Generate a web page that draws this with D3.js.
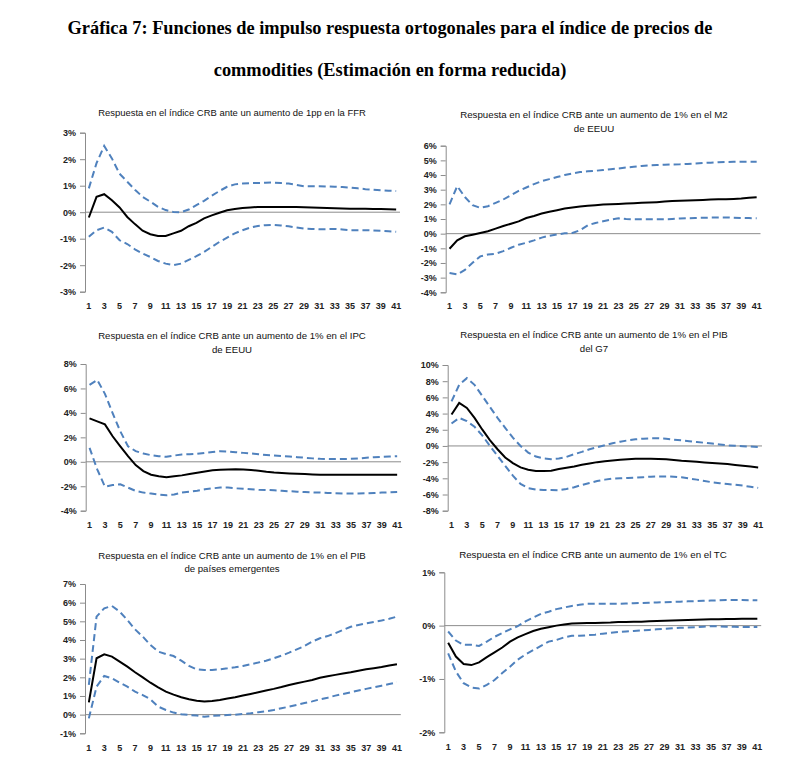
<!DOCTYPE html>
<html><head><meta charset="utf-8">
<script src="https://d3js.org/d3.v7.min.js"></script>
<style>body{margin:0;background:#fff}svg{display:block}</style>
</head><body>
<svg id="c" width="807" height="772"></svg>
<script>
// ---------- DATA ----------
const periods = d3.range(1, 42);
const xTickLabels = d3.range(1, 42, 2);

const titleMain = ["Gráfica 7: Funciones de impulso respuesta ortogonales para el índice de precios de",
                   "commodities (Estimación en forma reducida)"];

const titles = [
  ["Respuesta en el índice CRB ante un aumento de 1pp en la FFR"],
  ["Respuesta en el índice CRB ante un aumento de 1% en el M2", "de EEUU"],
  ["Respuesta en el índice CRB ante un aumento de 1% en el IPC", "de EEUU"],
  ["Respuesta en el índice CRB ante un aumento de 1% en el PIB", "del G7"],
  ["Respuesta en el índice CRB ante un aumento de 1% en el PIB", "de países emergentes"],
  ["Respuesta en el índice CRB ante un aumento de 1% en el TC"]
];

const yTicks = [
  [-3,-2,-1,0,1,2,3],
  [-4,-3,-2,-1,0,1,2,3,4,5,6],
  [-4,-2,0,2,4,6,8],
  [-8,-6,-4,-2,0,2,4,6,8,10],
  [-1,0,1,2,3,4,5,6,7],
  [-2,-1,0,1]
];

// Panel 1: FFR
const ffrMid = [-0.2,0.58,0.68,0.45,0.18,-0.18,-0.45,-0.7,-0.83,-0.9,-0.9,-0.8,-0.7,-0.53,-0.4,-0.23,-0.12,-0.02,0.07,0.12,0.16,0.18,0.2,0.2,0.2,0.2,0.2,0.2,0.19,0.18,0.17,0.16,0.15,0.14,0.13,0.13,0.13,0.12,0.12,0.11,0.1];
const ffrUp = [0.9,1.85,2.5,2.03,1.45,1.15,0.85,0.58,0.4,0.2,0.08,0.01,0.0,0.1,0.27,0.43,0.62,0.8,0.96,1.05,1.08,1.1,1.1,1.11,1.12,1.1,1.08,1.03,0.98,0.98,0.98,0.97,0.96,0.95,0.93,0.9,0.87,0.85,0.83,0.81,0.8];
const ffrLo = [-0.93,-0.68,-0.58,-0.74,-1.06,-1.2,-1.4,-1.56,-1.69,-1.84,-1.94,-2.0,-1.94,-1.8,-1.66,-1.5,-1.31,-1.12,-0.96,-0.8,-0.68,-0.58,-0.52,-0.49,-0.48,-0.5,-0.53,-0.58,-0.62,-0.63,-0.64,-0.64,-0.63,-0.65,-0.68,-0.68,-0.68,-0.69,-0.7,-0.72,-0.74];

// Panel 2: M2
const m2Mid = [-1.03,-0.46,-0.18,-0.07,0.05,0.16,0.34,0.52,0.68,0.84,1.07,1.21,1.37,1.5,1.6,1.71,1.78,1.85,1.9,1.94,1.99,2.01,2.03,2.05,2.08,2.1,2.12,2.15,2.19,2.22,2.24,2.26,2.28,2.3,2.33,2.34,2.35,2.37,2.4,2.45,2.49];
const m2Up = [2.0,3.24,2.5,1.94,1.76,1.87,2.1,2.33,2.63,2.92,3.15,3.38,3.58,3.72,3.86,4.0,4.11,4.2,4.25,4.29,4.34,4.4,4.45,4.51,4.57,4.62,4.66,4.68,4.7,4.72,4.73,4.76,4.79,4.82,4.84,4.87,4.89,4.9,4.91,4.91,4.91];
const m2Lo = [-2.69,-2.78,-2.47,-1.99,-1.55,-1.42,-1.37,-1.19,-0.96,-0.75,-0.62,-0.46,-0.27,-0.14,-0.05,0.02,0.05,0.23,0.57,0.73,0.84,0.96,1.05,1.0,0.98,0.98,0.98,0.98,0.98,1.0,1.03,1.05,1.07,1.08,1.1,1.1,1.1,1.09,1.07,1.06,1.05];

// Panel 3: IPC
const ipcMid = [3.55,3.31,3.06,2.09,1.27,0.46,-0.27,-0.76,-1.06,-1.19,-1.27,-1.19,-1.11,-1.0,-0.89,-0.79,-0.7,-0.65,-0.62,-0.6,-0.62,-0.68,-0.73,-0.81,-0.87,-0.91,-0.95,-0.98,-1.0,-1.03,-1.06,-1.06,-1.06,-1.06,-1.06,-1.06,-1.06,-1.06,-1.06,-1.06,-1.06];
const ipcUp = [6.29,6.7,5.56,3.98,2.49,1.27,0.87,0.68,0.54,0.46,0.41,0.51,0.6,0.62,0.65,0.73,0.81,0.87,0.84,0.79,0.73,0.68,0.62,0.56,0.51,0.47,0.43,0.38,0.33,0.28,0.24,0.23,0.22,0.23,0.24,0.28,0.33,0.37,0.41,0.44,0.46];
const ipcLo = [1.14,-0.62,-2.03,-1.9,-1.84,-2.11,-2.38,-2.52,-2.6,-2.68,-2.74,-2.68,-2.52,-2.44,-2.36,-2.25,-2.17,-2.11,-2.11,-2.17,-2.2,-2.24,-2.28,-2.3,-2.33,-2.37,-2.41,-2.44,-2.47,-2.5,-2.52,-2.55,-2.57,-2.59,-2.6,-2.59,-2.57,-2.55,-2.52,-2.5,-2.47];

// Panel 4: PIB G7
const g7Mid = [3.88,5.31,4.69,3.47,2.04,0.73,-0.41,-1.43,-2.12,-2.65,-2.94,-3.1,-3.1,-3.06,-2.86,-2.69,-2.53,-2.33,-2.16,-2.0,-1.88,-1.8,-1.71,-1.63,-1.59,-1.57,-1.59,-1.6,-1.63,-1.73,-1.84,-1.9,-1.96,-2.04,-2.12,-2.18,-2.24,-2.35,-2.45,-2.55,-2.65];
const g7Up = [5.51,7.55,8.37,7.55,6.2,4.82,3.47,2.24,1.02,0.0,-0.82,-1.31,-1.55,-1.63,-1.55,-1.35,-1.02,-0.73,-0.41,-0.16,0.08,0.33,0.53,0.69,0.82,0.9,0.94,0.94,0.9,0.78,0.69,0.59,0.49,0.39,0.29,0.18,0.08,0.02,-0.04,-0.08,-0.12];
const g7Lo = [2.78,3.47,3.06,2.37,1.31,0.0,-1.22,-2.45,-3.67,-4.69,-5.22,-5.39,-5.43,-5.43,-5.47,-5.31,-5.1,-4.82,-4.57,-4.33,-4.16,-4.04,-4.0,-3.96,-3.92,-3.86,-3.8,-3.78,-3.76,-3.8,-3.88,-4.02,-4.16,-4.33,-4.49,-4.6,-4.69,-4.8,-4.9,-5.04,-5.18];

// Panel 5: PIB emergentes
const emMid = [0.66,3.02,3.23,3.11,2.84,2.57,2.27,2.0,1.71,1.46,1.23,1.07,0.93,0.82,0.75,0.71,0.73,0.79,0.86,0.93,1.02,1.11,1.2,1.29,1.38,1.48,1.59,1.68,1.77,1.86,1.98,2.06,2.13,2.2,2.27,2.35,2.43,2.49,2.55,2.63,2.7];
const emUp = [1.6,5.25,5.7,5.82,5.52,5.07,4.57,4.18,3.73,3.38,3.25,3.14,2.89,2.61,2.43,2.39,2.39,2.43,2.48,2.54,2.61,2.7,2.79,2.89,3.02,3.16,3.32,3.5,3.68,3.91,4.09,4.21,4.36,4.54,4.71,4.8,4.89,4.96,5.04,5.14,5.25];
const emLo = [-0.2,1.5,2.07,1.95,1.71,1.5,1.23,1.05,0.82,0.43,0.25,0.11,0.02,-0.02,-0.05,-0.11,-0.07,-0.04,-0.02,0.0,0.04,0.07,0.13,0.18,0.25,0.34,0.43,0.52,0.62,0.71,0.82,0.91,1.02,1.11,1.2,1.29,1.38,1.46,1.55,1.64,1.73];

// Panel 6: TC
const tcMid = [-0.32,-0.58,-0.72,-0.74,-0.69,-0.59,-0.5,-0.41,-0.3,-0.22,-0.16,-0.1,-0.06,-0.03,0.0,0.02,0.04,0.045,0.05,0.05,0.055,0.06,0.07,0.07,0.075,0.075,0.08,0.085,0.09,0.095,0.1,0.105,0.11,0.115,0.12,0.12,0.125,0.125,0.13,0.13,0.13];
const tcUp = [-0.11,-0.28,-0.36,-0.36,-0.38,-0.3,-0.21,-0.14,-0.07,-0.01,0.08,0.15,0.22,0.26,0.31,0.34,0.37,0.39,0.41,0.41,0.41,0.41,0.41,0.415,0.42,0.425,0.43,0.435,0.44,0.445,0.45,0.455,0.46,0.465,0.47,0.475,0.48,0.48,0.48,0.478,0.475];
const tcLo = [-0.52,-0.86,-1.08,-1.16,-1.18,-1.11,-1.02,-0.89,-0.77,-0.64,-0.54,-0.46,-0.38,-0.3,-0.27,-0.22,-0.19,-0.19,-0.18,-0.17,-0.15,-0.135,-0.12,-0.11,-0.1,-0.09,-0.08,-0.07,-0.06,-0.05,-0.04,-0.035,-0.03,-0.02,-0.01,-0.015,-0.02,-0.022,-0.025,-0.025,-0.025];

const seriesSets = [
  [ffrUp, ffrLo, ffrMid],
  [m2Up, m2Lo, m2Mid],
  [ipcUp, ipcLo, ipcMid],
  [g7Up, g7Lo, g7Mid],
  [emUp, emLo, emMid],
  [tcUp, tcLo, tcMid]
];

// ---------- LAYOUT ----------
const layout = [
  {axisX:85,  right:400,   yTop:132.7, yBot:291.7, titleY:[112],      titleX:232, labY:305},
  {axisX:445.7,right:760.5,yTop:145.7, yBot:292.3, titleY:[114,128],  titleX:594, labY:305},
  {axisX:85.7,right:401,   yTop:364,   yBot:510.7, titleY:[335,349],  titleX:232, labY:524},
  {axisX:447.7,right:762,  yTop:365,   yBot:510.7, titleY:[334,348],  titleX:594, labY:524},
  {axisX:85,  right:394.5+6.3, yTop:584, yBot:733.3, titleY:[555,568], titleX:232, labY:747},
  {axisX:444.3,right:761.2,yTop:572.3, yBot:732.3, titleY:[554],      titleX:593, labY:746}
];

const svg = d3.select("#c");
const font = "'Liberation Sans', Arial, sans-serif";

// main title
const mt = svg.append("g");
[28, 70].forEach((y, k) => {
  mt.append("text").attr("x", 390).attr("y", y + 6).attr("text-anchor", "middle")
    .attr("font-family", "'Liberation Serif','Times New Roman',serif").attr("font-weight", "bold")
    .attr("font-size", 18).attr("fill", "#000").text(titleMain[k]);
});
// fit the first line to its width in the reference
{
  const t = mt.select("text").node();
  const w = t.getComputedTextLength();
  const fs = 18 * 645 / w;
  mt.selectAll("text").attr("font-size", fs);
}

layout.forEach((L, p) => {
  const g = svg.append("g");
  const [up, lo, mid] = seriesSets[p];
  const ticks = yTicks[p];
  const y = d3.scaleLinear().domain([ticks[0], ticks[ticks.length - 1]]).range([L.yBot, L.yTop]);
  const x = d3.scaleBand().domain(periods).range([L.axisX, L.right]).padding(0);
  const cx = d => x(d) + x.bandwidth() / 2;

  // title
  const tl = titles[p];
  const tg = g.append("g");
  tl.forEach((s, k) => {
    tg.append("text").attr("x", L.titleX).attr("y", L.titleY[k] + 3.5).attr("text-anchor", "middle")
      .attr("font-family", font).attr("font-size", 9.5).attr("fill", "#111").text(s);
  });
  {
    const n = tg.select("text").node();
    const w = n.getComputedTextLength();
    tg.selectAll("text").attr("font-size", 9.5 * 268 / w);
  }

  // y axis
  const ya = d3.axisLeft(y).tickValues(ticks).tickSize(5).tickPadding(4).tickFormat(d => d + "%");
  const ay = g.append("g").attr("transform", `translate(${L.axisX},0)`).call(ya);
  ay.select(".domain").attr("stroke", "#8c8c8c");
  ay.selectAll(".tick line").attr("stroke", "#8c8c8c");
  ay.selectAll(".tick text").attr("font-family", font).attr("font-size", 9).attr("font-weight", "bold").attr("fill", "#222");

  // zero line
  g.append("line").attr("x1", L.axisX).attr("x2", L.right).attr("y1", y(0)).attr("y2", y(0))
    .attr("stroke", "#8c8c8c").attr("stroke-width", 1);

  // x labels
  g.selectAll(".xl").data(xTickLabels).enter().append("text")
    .attr("x", d => cx(d)).attr("y", L.labY + 3.5).attr("text-anchor", "middle")
    .attr("font-family", font).attr("font-size", 9).attr("font-weight", "bold").attr("fill", "#222")
    .text(d => d);

  const line = d3.line().x((d, i) => cx(periods[i])).y(d => y(d));
  [up, lo].forEach(s => {
    g.append("path").attr("d", line(s)).attr("fill", "none").attr("stroke", "#4f81bd")
      .attr("stroke-width", 2).attr("stroke-dasharray", "7,4");
  });
  g.append("path").attr("d", line(mid)).attr("fill", "none").attr("stroke", "#000").attr("stroke-width", 2);
});
</script>
</body></html>
